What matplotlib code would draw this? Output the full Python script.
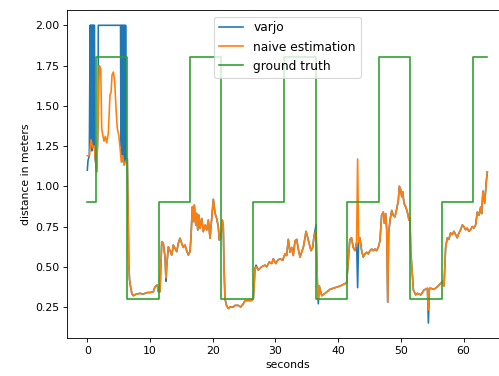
import matplotlib
matplotlib.use("Agg")
import matplotlib.pyplot as plt

# naive estimation (seconds, meters)
naive_t = [0.0, 0.32, 0.59, 0.86, 1.07, 1.23, 1.50, 1.75, 1.91, 2.14,
           2.30, 2.46, 2.66, 2.87, 3.09, 3.35, 3.62, 3.78, 3.94, 4.15,
           4.37, 4.58, 4.78, 5.01, 5.22, 5.42, 5.65, 5.85, 6.06, 6.38,
           6.46, 6.54, 6.62, 6.73, 6.92, 7.13, 7.34, 7.80, 8.41, 8.90,
           9.20, 9.60, 10.0, 10.53, 10.80, 11.16, 11.32, 11.59, 11.87, 12.12,
           12.39, 12.55, 12.66, 12.92, 13.19, 13.46, 13.72, 13.99, 14.26, 14.51,
           14.78, 15.05, 15.31, 15.58, 15.85, 16.11, 16.38, 16.54, 16.75, 16.91,
           17.07, 17.29, 17.45, 17.61, 17.81, 17.97, 18.25, 18.50, 18.77, 19.04,
           19.30, 19.57, 19.84, 20.10, 20.37, 20.64, 20.89, 21.05, 21.28, 21.53,
           21.69, 21.80, 21.96, 22.20, 22.49, 22.76, 23.29, 23.56, 24.08, 24.47,
           24.88, 25.15, 25.68, 26.22, 26.48, 26.75, 26.91, 27.27, 27.81, 28.33,
           28.61, 29.03, 29.41, 29.67, 30.05, 30.37, 30.73, 31.16, 31.52, 31.79,
           32.06, 32.33, 32.60, 32.85, 33.13, 33.40, 33.65, 33.92, 34.19, 34.45,
           34.72, 34.88, 35.09, 35.41, 35.68, 35.95, 36.16, 36.48, 36.68, 36.84,
           37.00, 37.39, 37.92, 38.72, 39.51, 40.30, 40.83, 41.36, 41.87, 42.14,
           42.41, 42.68, 42.95, 43.11, 43.27, 43.48, 43.75, 44.01, 44.27, 44.55,
           44.82, 45.08, 45.35, 45.61, 45.88, 46.14, 46.40, 46.67, 46.94, 47.21,
           47.37, 47.59, 47.75, 47.91, 48.07, 48.28, 48.55, 48.80, 49.07, 49.35,
           49.60, 49.76, 49.98, 50.14, 50.30, 50.51, 50.78, 51.04, 51.31, 51.47,
           51.58, 52.01, 52.38, 52.65, 53.18, 53.71, 54.24, 54.40, 54.56, 54.77,
           55.30, 55.83, 56.36, 56.63, 56.89, 57.15, 57.42, 57.67, 57.93, 58.20,
           58.47, 58.74, 59.00, 59.27, 59.54, 59.81, 60.06, 60.33, 60.60, 60.86,
           61.13, 61.40, 61.66, 61.93, 62.20, 62.46, 62.73, 62.89, 63.10, 63.37,
           63.64, 63.80]
naive_v = [1.19, 1.19, 1.29, 1.24, 1.25, 1.19, 1.09, 1.44, 1.75, 1.73,
           1.36, 1.32, 1.28, 1.31, 1.27, 1.33, 1.57, 1.58, 1.69, 1.71,
           1.65, 1.48, 1.36, 1.32, 1.24, 1.15, 1.19, 1.13, 1.15, 1.17,
           0.95, 0.70, 0.52, 0.42, 0.37, 0.33, 0.32, 0.33, 0.335, 0.33,
           0.335, 0.34, 0.34, 0.345, 0.376, 0.387, 0.345, 0.345, 0.656, 0.645,
           0.562, 0.43, 0.50, 0.624, 0.60, 0.573, 0.635, 0.615, 0.594, 0.646,
           0.677, 0.646, 0.62, 0.635, 0.60, 0.573, 0.594, 0.687, 0.873, 0.78,
           0.883, 0.759, 0.832, 0.728, 0.821, 0.739, 0.80, 0.718, 0.759, 0.728,
           0.79, 0.677, 0.80, 0.919, 0.832, 0.80, 0.749, 0.666, 0.677, 0.79,
           0.75, 0.50, 0.30, 0.26, 0.24, 0.25, 0.25, 0.26, 0.26, 0.25,
           0.27, 0.29, 0.29, 0.29, 0.30, 0.49, 0.50, 0.48, 0.50, 0.51,
           0.50, 0.53, 0.52, 0.55, 0.52, 0.54, 0.55, 0.54, 0.58, 0.57,
           0.67, 0.59, 0.62, 0.57, 0.66, 0.67, 0.61, 0.56, 0.59, 0.62,
           0.68, 0.72, 0.69, 0.64, 0.60, 0.62, 0.69, 0.73, 0.42, 0.30,
           0.38, 0.32, 0.335, 0.36, 0.37, 0.38, 0.39, 0.40, 0.67, 0.68,
           0.62, 0.60, 0.65, 1.17, 0.65, 0.68, 0.60, 0.56, 0.58, 0.59,
           0.58, 0.60, 0.61, 0.60, 0.61, 0.60, 0.62, 0.66, 0.82, 0.84,
           0.77, 0.83, 0.73, 0.28, 0.71, 0.79, 0.85, 0.82, 0.81, 0.86,
           0.91, 1.00, 0.98, 0.935, 0.966, 0.894, 0.873, 0.84, 0.79, 0.80,
           0.60, 0.355, 0.325, 0.335, 0.325, 0.356, 0.366, 0.23, 0.366, 0.366,
           0.36, 0.376, 0.397, 0.41, 0.38, 0.62, 0.68, 0.67, 0.71, 0.70,
           0.72, 0.70, 0.68, 0.71, 0.73, 0.76, 0.75, 0.73, 0.74, 0.72,
           0.73, 0.75, 0.74, 0.76, 0.84, 0.82, 0.87, 0.83, 0.97, 0.894,
           1.03, 1.09]

# varjo: saturated start, then same track as naive except a few dips
varjo_start_t = [0.0, 0.11, 0.32, 0.45, 0.50, 0.55, 0.60, 0.66, 0.72, 0.78,
                 0.84, 0.90, 0.96, 1.02, 1.08, 1.12, 1.20, 1.50, 1.72, 1.75,
                 5.30, 5.36, 5.42, 5.48, 5.55, 5.62, 5.69, 5.76, 5.83, 5.90,
                 5.97, 6.04, 6.10, 6.17]
varjo_start_v = [1.10, 1.16, 1.19, 2.00, 1.25, 2.00, 1.30, 2.00, 1.22, 2.00,
                 1.28, 2.00, 1.25, 2.00, 1.30, 2.00, 1.19, 1.09, 1.40, 2.00,
                 2.00, 1.25, 2.00, 1.20, 2.00, 1.18, 2.00, 1.15, 2.00, 1.14,
                 2.00, 1.16, 2.00, 1.17]
varjo_dips = {12.55: 0.41, 26.91: 0.51, 36.48: 0.76, 36.84: 0.27,
              43.11: 0.37, 54.40: 0.15}

varjo_t = varjo_start_t + [t for t in naive_t if t > 6.3]
varjo_v = varjo_start_v + [varjo_dips.get(t, v) for t, v in zip(naive_t, naive_v) if t > 6.3]

# ground truth steps
gt_t = [0.0, 1.35, 6.4, 11.4, 16.4, 21.4, 26.45, 31.4, 36.4, 41.45,
        46.45, 51.5, 56.55, 61.55, 63.8]
gt_v = [0.9, 1.8, 0.3, 0.9, 1.8, 0.3, 0.9, 1.8, 0.3, 0.9,
        1.8, 0.3, 0.9, 1.8, 1.8]

fig = plt.figure(figsize=(499 / 78, 376 / 78), dpi=78)
ax = fig.add_axes([0.1349, 0.1011, 0.8818, 0.8712])

ax.plot(varjo_t, varjo_v, label="varjo")
ax.plot(naive_t, naive_v, label="naive estimation")
ax.step(gt_t, gt_v, where="post", label="ground truth")

ax.set_xlabel("seconds")
ax.set_ylabel("distance in meters")
ax.legend(loc="upper center", fontsize=11.3)

fig.savefig("out.png", dpi=78)
